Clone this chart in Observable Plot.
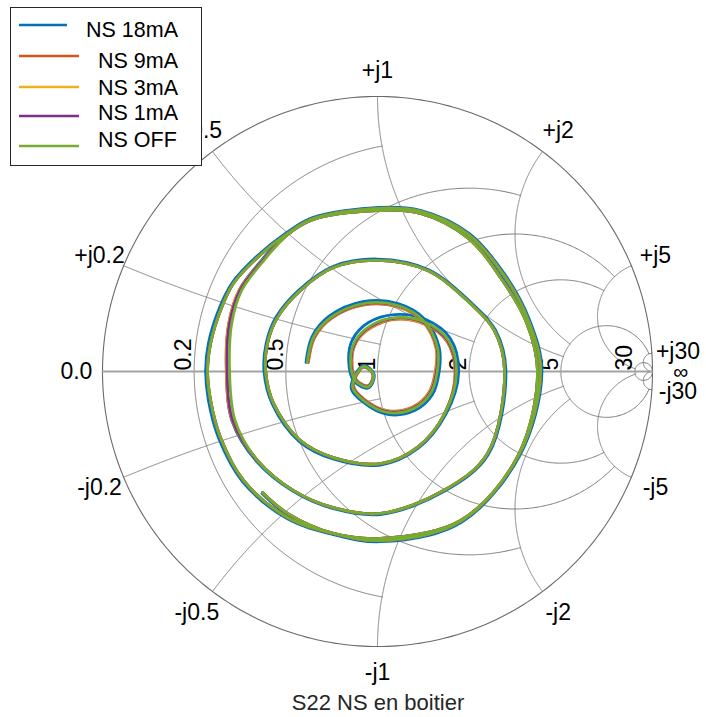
<!DOCTYPE html>
<html>
<head>
<meta charset="utf-8">
<script src="https://cdn.jsdelivr.net/npm/d3@7"></script>
<script src="https://cdn.jsdelivr.net/npm/@observablehq/plot@0.6"></script>
<style>
  body { margin: 0; background: #fff; font-family: "Liberation Sans", Arial, sans-serif; }
  #wrap { position: relative; width: 706px; height: 717px; overflow: hidden; }
  #chart { position: absolute; left: 0; top: 0; }
  #title { position: absolute; left: 0; top: 690px; width: 756px; text-align: center; font-size: 22px; color: #262626; white-space: nowrap; }
  #legend { position: absolute; left: 10px; top: 7px; width: 190px; height: 157px; background: #fff; border: 1px solid #262626; }
</style>
</head>
<body>
<div id="wrap">
  <div id="chart"></div>
  <div id="title">S22 NS en boitier</div>
  <div id="legend"></div>
</div>
<script>
// ---- Data (reflection coefficient: [Re, Im]) ----
const seriesNames = ["NS 18mA", "NS 9mA", "NS 3mA", "NS 1mA", "NS OFF"];
const seriesColors = ["#0072BD", "#D95319", "#EDB120", "#7E2F8E", "#77AC30"];

const ns18 = [
  [-0.420,-0.444],[-0.329,-0.520],[-0.160,-0.593],[0.011,-0.611],[0.304,-0.546],[0.517,-0.307],[0.598,-0.004],[0.553,0.187],
  [0.461,0.356],[0.333,0.502],[0.156,0.586],[0.004,0.597],[-0.236,0.560],[-0.331,0.505],[-0.440,0.418],[-0.529,0.322],
  [-0.578,0.224],[-0.615,0.102],[-0.625,0.004],[-0.615,-0.105],[-0.578,-0.242],[-0.491,-0.400],[-0.329,-0.535],[-0.160,-0.593],
  [0.011,-0.619],[0.304,-0.549],[0.516,-0.304],[0.587,-0.004],[0.545,0.180],[0.450,0.345],[0.329,0.490],[0.156,0.578],
  [0.000,0.589],[-0.236,0.556],[-0.331,0.501],[-0.429,0.396],[-0.502,0.298],[-0.540,0.176],[-0.549,0.004],[-0.529,-0.180],
  [-0.440,-0.327],[-0.307,-0.436],[-0.160,-0.499],[0.011,-0.520],[0.243,-0.436],[0.404,-0.300],[0.467,0.004],[0.429,0.151],
  [0.341,0.250],[0.184,0.371],[0.000,0.409],[-0.162,0.382],[-0.284,0.298],[-0.369,0.198],[-0.405,0.102],[-0.413,0.004],
  [-0.383,-0.118],[-0.284,-0.255],[-0.162,-0.318],[0.011,-0.340],[0.147,-0.280],[0.249,-0.155],[0.295,-0.004],[0.265,0.120],
  [0.178,0.188],[0.062,0.207],[-0.033,0.178],[-0.091,0.116],[-0.105,0.040],[-0.085,-0.036],[-0.033,-0.060],[-0.012,-0.011],
  [-0.051,0.022],[-0.096,-0.058],[-0.053,-0.111],[0.036,-0.156],[0.135,-0.142],[0.200,-0.084],[0.225,0.004],[0.224,0.090],
  [0.171,0.191],[0.075,0.247],[-0.053,0.254],[-0.176,0.201],[-0.238,0.127],[-0.260,0.033]
];
const ns9 = [
  [-0.418,-0.440],[-0.327,-0.516],[-0.160,-0.589],[0.011,-0.607],[0.302,-0.542],[0.513,-0.305],[0.593,-0.004],[0.549,0.185],
  [0.458,0.353],[0.331,0.498],[0.156,0.582],[0.004,0.593],[-0.233,0.556],[-0.327,0.502],[-0.436,0.415],[-0.524,0.320],
  [-0.571,0.222],[-0.607,0.102],[-0.618,0.004],[-0.607,-0.105],[-0.571,-0.240],[-0.487,-0.396],[-0.327,-0.531],[-0.160,-0.589],
  [0.011,-0.615],[0.302,-0.545],[0.513,-0.302],[0.582,-0.004],[0.542,0.178],[0.447,0.342],[0.327,0.487],[0.156,0.575],
  [0.000,0.585],[-0.233,0.553],[-0.327,0.498],[-0.428,0.393],[-0.503,0.295],[-0.541,0.175],[-0.550,0.004],[-0.528,-0.178],
  [-0.436,-0.324],[-0.305,-0.433],[-0.160,-0.495],[0.011,-0.516],[0.240,-0.433],[0.400,-0.298],[0.462,0.004],[0.425,0.149],
  [0.338,0.247],[0.182,0.367],[0.000,0.404],[-0.160,0.378],[-0.280,0.295],[-0.364,0.196],[-0.400,0.102],[-0.407,0.004],
  [-0.378,-0.116],[-0.280,-0.251],[-0.160,-0.313],[0.011,-0.335],[0.145,-0.276],[0.244,-0.153],[0.282,-0.004],[0.252,0.110],
  [0.171,0.172],[0.065,0.190],[-0.022,0.160],[-0.076,0.109],[-0.093,0.040],[-0.076,-0.031],[-0.033,-0.051],[-0.017,-0.011],
  [-0.051,0.016],[-0.087,-0.051],[-0.049,-0.100],[0.036,-0.142],[0.127,-0.129],[0.187,-0.076],[0.211,0.004],[0.213,0.085],
  [0.164,0.182],[0.071,0.236],[-0.049,0.242],[-0.167,0.193],[-0.229,0.122],[-0.251,0.033]
];
const ns3 = [
  [-0.418,-0.440],[-0.327,-0.516],[-0.160,-0.589],[0.011,-0.607],[0.302,-0.542],[0.513,-0.305],[0.593,-0.004],[0.549,0.185],
  [0.458,0.353],[0.331,0.498],[0.156,0.582],[0.004,0.593],[-0.233,0.556],[-0.327,0.502],[-0.436,0.415],[-0.524,0.320],
  [-0.571,0.222],[-0.607,0.102],[-0.618,0.004],[-0.607,-0.105],[-0.571,-0.240],[-0.487,-0.396],[-0.327,-0.531],[-0.160,-0.589],
  [0.011,-0.615],[0.302,-0.545],[0.513,-0.302],[0.582,-0.004],[0.542,0.178],[0.447,0.342],[0.327,0.487],[0.156,0.575],
  [0.000,0.585],[-0.233,0.553],[-0.327,0.498],[-0.427,0.393],[-0.502,0.295],[-0.540,0.175],[-0.549,0.004],[-0.527,-0.178],
  [-0.436,-0.324],[-0.305,-0.433],[-0.160,-0.495],[0.011,-0.516],[0.240,-0.433],[0.400,-0.298],[0.462,0.004],[0.425,0.149],
  [0.338,0.247],[0.182,0.367],[0.000,0.404],[-0.160,0.378],[-0.280,0.295],[-0.364,0.196],[-0.400,0.102],[-0.407,0.004],
  [-0.378,-0.116],[-0.280,-0.251],[-0.160,-0.313],[0.011,-0.335],[0.145,-0.276],[0.244,-0.153],[0.284,-0.004],[0.254,0.111],
  [0.172,0.174],[0.065,0.192],[-0.023,0.162],[-0.077,0.110],[-0.094,0.040],[-0.077,-0.032],[-0.033,-0.052],[-0.016,-0.011],
  [-0.051,0.017],[-0.088,-0.052],[-0.050,-0.102],[0.036,-0.144],[0.128,-0.131],[0.189,-0.077],[0.213,0.004],[0.214,0.086],
  [0.165,0.183],[0.072,0.238],[-0.050,0.244],[-0.169,0.194],[-0.231,0.123],[-0.253,0.033]
];
const ns1 = [
  [-0.418,-0.440],[-0.327,-0.516],[-0.160,-0.589],[0.011,-0.607],[0.302,-0.542],[0.513,-0.305],[0.593,-0.004],[0.549,0.185],
  [0.458,0.353],[0.331,0.498],[0.156,0.582],[0.004,0.593],[-0.233,0.556],[-0.327,0.502],[-0.436,0.415],[-0.524,0.320],
  [-0.571,0.222],[-0.607,0.102],[-0.618,0.004],[-0.607,-0.105],[-0.571,-0.240],[-0.487,-0.396],[-0.327,-0.531],[-0.160,-0.589],
  [0.011,-0.615],[0.302,-0.545],[0.513,-0.302],[0.582,-0.004],[0.542,0.178],[0.447,0.342],[0.327,0.487],[0.156,0.575],
  [0.000,0.585],[-0.233,0.553],[-0.327,0.498],[-0.426,0.393],[-0.500,0.295],[-0.538,0.175],[-0.547,0.004],[-0.526,-0.178],
  [-0.436,-0.324],[-0.305,-0.433],[-0.160,-0.495],[0.011,-0.516],[0.240,-0.433],[0.400,-0.298],[0.462,0.004],[0.425,0.149],
  [0.338,0.247],[0.182,0.367],[0.000,0.404],[-0.160,0.378],[-0.280,0.295],[-0.364,0.196],[-0.400,0.102],[-0.407,0.004],
  [-0.378,-0.116],[-0.280,-0.251],[-0.160,-0.313],[0.011,-0.335],[0.145,-0.276],[0.244,-0.153],[0.285,-0.004],[0.255,0.112],
  [0.173,0.176],[0.065,0.194],[-0.024,0.164],[-0.078,0.111],[-0.096,0.040],[-0.078,-0.032],[-0.033,-0.053],[-0.016,-0.011],
  [-0.051,0.017],[-0.089,-0.053],[-0.050,-0.103],[0.036,-0.146],[0.129,-0.133],[0.191,-0.078],[0.215,0.004],[0.216,0.086],
  [0.166,0.184],[0.072,0.239],[-0.050,0.245],[-0.170,0.195],[-0.232,0.123],[-0.254,0.033]
];
const nsOff = [
  [-0.418,-0.440],[-0.327,-0.516],[-0.160,-0.589],[0.011,-0.607],[0.302,-0.542],[0.513,-0.305],[0.593,-0.004],[0.549,0.185],
  [0.458,0.353],[0.331,0.498],[0.156,0.582],[0.004,0.593],[-0.233,0.556],[-0.327,0.502],[-0.436,0.415],[-0.524,0.320],
  [-0.571,0.222],[-0.607,0.102],[-0.618,0.004],[-0.607,-0.105],[-0.571,-0.240],[-0.487,-0.396],[-0.327,-0.531],[-0.160,-0.589],
  [0.011,-0.615],[0.302,-0.545],[0.513,-0.302],[0.582,-0.004],[0.542,0.178],[0.447,0.342],[0.327,0.487],[0.156,0.575],
  [0.000,0.585],[-0.233,0.553],[-0.327,0.498],[-0.422,0.393],[-0.494,0.295],[-0.530,0.175],[-0.538,0.004],[-0.518,-0.178],
  [-0.436,-0.324],[-0.305,-0.433],[-0.160,-0.495],[0.011,-0.516],[0.240,-0.433],[0.400,-0.298],[0.462,0.004],[0.425,0.149],
  [0.338,0.247],[0.182,0.367],[0.000,0.404],[-0.160,0.378],[-0.280,0.295],[-0.364,0.196],[-0.400,0.102],[-0.407,0.004],
  [-0.378,-0.116],[-0.280,-0.251],[-0.160,-0.313],[0.011,-0.335],[0.145,-0.276],[0.244,-0.153],[0.287,-0.004],[0.258,0.113],
  [0.175,0.178],[0.065,0.196],[-0.025,0.167],[-0.080,0.113],[-0.098,0.040],[-0.080,-0.033],[-0.033,-0.055],[-0.015,-0.011],
  [-0.051,0.018],[-0.091,-0.055],[-0.051,-0.105],[0.036,-0.149],[0.131,-0.135],[0.193,-0.080],[0.218,0.004],[0.218,0.087],
  [0.167,0.185],[0.073,0.240],[-0.051,0.247],[-0.171,0.196],[-0.233,0.124],[-0.255,0.033]
];
const seriesData = [ns18, ns9, ns3, ns1, nsOff];

// ---- Smith grid values (MATLAB-style: value, extent) ----
const gridValues = [30, 5, 2, 1, 0.5, 0.2];
const gridLimits = [Infinity, 30, 5, 5, 2, 1];
const resistanceLabels = ["0.2", "0.5", "1", "2", "5", "30"];
const resistanceLabelValues = [0.2, 0.5, 1, 2, 5, 30];
const reactanceLabels = ["+j0.2","+j0.5","+j1","+j2","+j5","+j30","∞","-j30","-j5","-j2","-j1","-j0.5","-j0.2","0.0"];
const reactanceLabelValues = [0.2,0.5,1,2,5,30,Infinity,-30,-5,-2,-1,-0.5,-0.2,0];

// ---- helpers ----
function gamma(r, x) { // z = r + jx -> Gamma
  const ar = r - 1, ai = x, br = r + 1, bi = x;
  const d = br*br + bi*bi;
  return [(ar*br + ai*bi)/d, (ai*br - ar*bi)/d];
}
const N = 900;
const gridLines = [];
let gid = 0;
gridValues.forEach((v, i) => {
  const lim = gridLimits[i];
  const pm = Math.atan(lim);
  for (let k = 0; k <= N; k++) {
    const phi = -pm + (2*pm)*k/N;
    const xx = Math.tan(Math.max(-1.5706, Math.min(1.5706, phi)));
    const g = gamma(v, xx); gridLines.push({re:g[0], im:g[1], id:gid});
  }
  gid++;
  for (const s of [1, -1]) {
    for (let k = 0; k <= N; k++) {
      const phi = pm*k/N;
      const rr = Math.tan(Math.min(1.5706, phi));
      const g = gamma(rr, s*v); gridLines.push({re:g[0], im:g[1], id:gid});
    }
    gid++;
  }
});
const outer = d3.range(0, 361).map(a => ({re: Math.cos(a*Math.PI/180), im: Math.sin(a*Math.PI/180)}));
const axisLine = [{re:-1, im:0}, {re:1, im:0}];

const traces = [];
seriesData.forEach((arr, si) => arr.forEach(p => traces.push({re:p[0], im:p[1], s:seriesNames[si]})));

const rLabels = resistanceLabelValues.map((v, i) => ({re:(v-1)/(v+1), im:0, t:resistanceLabels[i]}));
const LR = 1.095;
const xLabels = reactanceLabelValues.map((v, i) => {
  let a;
  if (v === Infinity) a = 0; else { const g = gamma(0, v); a = Math.atan2(g[1], g[0]); }
  return {re: LR*Math.cos(a), im: LR*Math.sin(a), t: reactanceLabels[i]};
});

const chart = Plot.plot({
  width: 706, height: 717,
  margin: 0,
  x: {domain: [-1, 1], range: [102, 652], axis: null},
  y: {domain: [-1, 1], range: [646, 96], axis: null},
  color: {domain: seriesNames, range: seriesColors},
  style: {fontFamily: '"Liberation Sans", Arial, sans-serif', background: "#fff"},
  marks: [
    Plot.line(gridLines, {x: "re", y: "im", z: "id", stroke: "#7a7a7a", strokeWidth: 1}),
    Plot.line(outer, {x: "re", y: "im", stroke: "#6a6a6a", strokeWidth: 1.1}),
    Plot.line(axisLine, {x: "re", y: "im", stroke: "#a3a3a3", strokeWidth: 1.8}),
    Plot.text(rLabels, {x: "re", y: "im", text: "t", rotate: -90, textAnchor: "start", lineAnchor: "bottom", dx: -3, dy: -1, fontSize: 23, fill: "#000"}),
    Plot.text(xLabels.filter(d => d.t !== "∞"), {x: "re", y: "im", text: "t", textAnchor: "middle", lineAnchor: "middle", fontSize: 23, fill: "#000"}),
    Plot.text(xLabels.filter(d => d.t === "∞"), {x: "re", y: "im", text: "t", textAnchor: "middle", lineAnchor: "middle", fontSize: 21, dx: 2, dy: 1, fill: "#000"}),
    Plot.line(traces, {x: "re", y: "im", z: "s", stroke: "s", strokeWidth: 2.8, curve: "catmull-rom", strokeLinejoin: "round"})
  ]
});
document.getElementById("chart").appendChild(chart);

// ---- legend ----
const legend = document.getElementById("legend");
const lineEnds = [67, 79, 79, 79, 79];
const textLeft = [75, 87, 87, 87, 87];
const lineY = [17, 48, 79, 108, 138];
const textY = [12, 43, 70, 95, 122];
const svgNS = "http://www.w3.org/2000/svg";
const ls = document.createElementNS(svgNS, "svg");
ls.setAttribute("width", 190); ls.setAttribute("height", 157);
ls.style.position = "absolute"; ls.style.left = "0"; ls.style.top = "0";
legend.appendChild(ls);
seriesNames.forEach((name, i) => {
  const l = document.createElementNS(svgNS, "line");
  l.setAttribute("x1", 8); l.setAttribute("x2", lineEnds[i] - 11);
  l.setAttribute("y1", lineY[i]); l.setAttribute("y2", lineY[i]);
  l.setAttribute("stroke", seriesColors[i]); l.setAttribute("stroke-width", 2.6);
  ls.appendChild(l);
  const t = document.createElement("span");
  t.textContent = name;
  t.style.position = "absolute"; t.style.left = textLeft[i] + "px"; t.style.top = textY[i] + "px";
  t.style.fontSize = "21.5px"; t.style.lineHeight = "1"; t.style.color = "#000";
  legend.appendChild(t);
});
</script>
</body>
</html>
